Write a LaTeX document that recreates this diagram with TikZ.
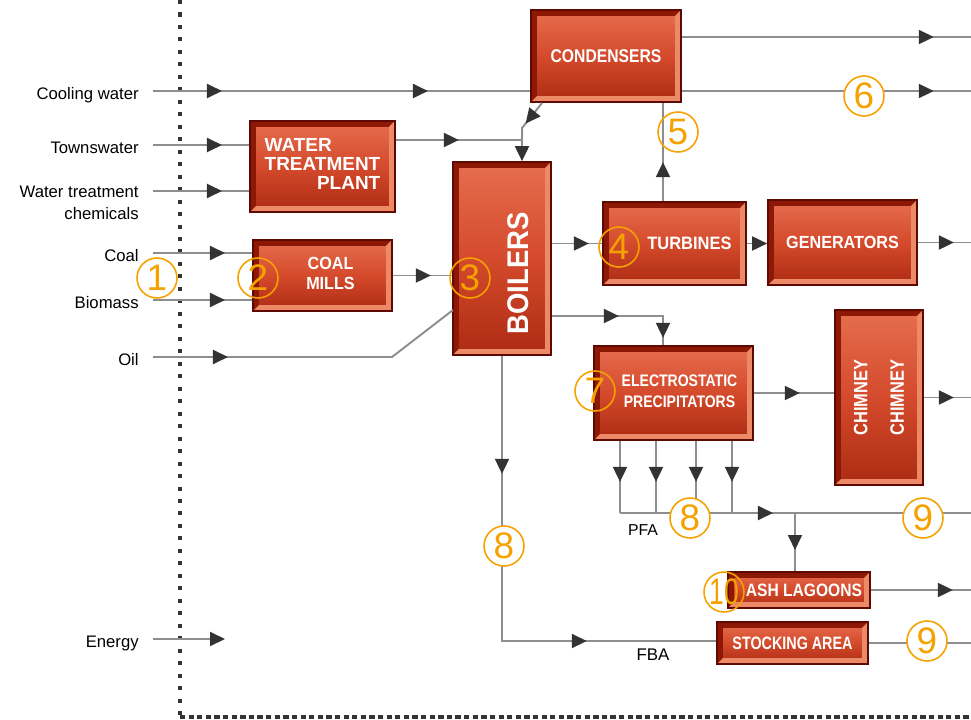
\documentclass[tikz,border=0pt]{standalone}
\usepackage{fontspec}
\setmainfont{Liberation Sans}
\setsansfont{Liberation Sans}
\usepackage{graphicx}
\usetikzlibrary{arrows.meta,decorations.markings}
\definecolor{unitlight}{HTML}{E66E4F}
\definecolor{unitmid}{HTML}{D44A2C}
\definecolor{unitdeep}{HTML}{AC2B12}
\definecolor{unitedge}{HTML}{5E0A02}
\definecolor{unitshade}{HTML}{8E1806}
\definecolor{unitglow}{HTML}{EC8A68}
\definecolor{pipegray}{HTML}{8E8E8E}
\definecolor{tipgray}{HTML}{333333}
\definecolor{tagorange}{HTML}{F5A200}
\definecolor{fencegray}{HTML}{333333}
\newcommand\bevelwd{3.4pt}
\newcommand\narrowtext[2]{\scalebox{#1}[1]{#2}}
\tikzset{
  flowtip/.tip={Triangle[length=0.3cm,width=0.28cm,color=tipgray]},
  pipe/.style={draw=pipegray, line width=1.1pt},
  ahead/.style={postaction={decorate,decoration={markings,
      mark=at position #1 with {\arrow{flowtip}}}}},
  unit/.style={rectangle, draw=unitedge, line width=1pt,
    top color=unitlight, bottom color=unitdeep, middle color=unitmid,
    text=white, inner sep=0pt, align=center,
    path picture={
      \path (path picture bounding box.north west) coordinate (bnw)
            (path picture bounding box.north east) coordinate (bne)
            (path picture bounding box.south west) coordinate (bsw)
            (path picture bounding box.south east) coordinate (bse);
      \fill[unitshade] (bsw) -- (bnw) -- (bne)
        -- ([shift={(-\bevelwd,-\bevelwd)}]bne) -- ([shift={(\bevelwd,-\bevelwd)}]bnw)
        -- ([shift={(\bevelwd,\bevelwd)}]bsw) -- cycle;
      \fill[unitglow] (bsw) -- (bse) -- (bne)
        -- ([shift={(-\bevelwd,-\bevelwd)}]bne) -- ([shift={(-\bevelwd,\bevelwd)}]bse)
        -- ([shift={(\bevelwd,\bevelwd)}]bsw) -- cycle;
    }},
  inlet/.style={anchor=east, inner xsep=0.28cm, inner ysep=0pt,
    font=\fontsize{9.5}{12.5}\selectfont},
  oneline/.style={text height=0.95em, text depth=0pt},
  note/.style={inner sep=0pt, font=\fontsize{9}{11}\selectfont},
  tag/.style={circle, draw=tagorange, line width=0.9pt, minimum size=0.8cm,
    inner sep=0pt, text=tagorange, font=\fontsize{21}{21}\selectfont},
  fence/.style={draw=fencegray, line width=1.9pt}
}

\begin{document}
\begin{tikzpicture}[x=0.02cm, y=-0.02cm]
\useasboundingbox (0,0) rectangle (971,720);

% site boundary
\draw[fence, dash pattern=on 2.3pt off 4.8pt] (180,0) -- (180,717);
\draw[fence, dash pattern=on 3pt off 1.9pt] (180,717) -- (971,717);

% plant units
\node[unit, minimum width=3cm, minimum height=1.84cm,
  font=\bfseries\fontsize{10.5}{12}\selectfont] (cond) at (606,56)
  {\narrowtext{0.85}{CONDENSERS}};
\node[unit, minimum width=2.9cm, minimum height=1.82cm,
  font=\bfseries\fontsize{10.8}{10.8}\selectfont] (wtp) at (322.5,166.5)
  {\begin{tabular}{@{}l@{}}WATER\\TREATMENT\\\hfill PLANT\end{tabular}};
\node[unit, minimum width=2.78cm, minimum height=1.42cm,
  font=\bfseries\fontsize{10}{11.3}\selectfont] (mills) at (322.5,275.5)
  {\hspace*{0.32cm}\narrowtext{0.92}{\begin{tabular}{@{}c@{}}COAL\\MILLS\end{tabular}}};
\node[unit, minimum width=1.96cm, minimum height=3.86cm,
  font=\bfseries\fontsize{17}{17}\selectfont] (boil) at (502,258.5)
  {\hspace*{0.64cm}\rotatebox{90}{\narrowtext{0.92}{BOILERS}\hspace{0.6cm}}};
\node[unit, minimum width=2.86cm, minimum height=1.66cm,
  font=\bfseries\fontsize{10.2}{12}\selectfont] (turb) at (674.5,243.5)
  {\hspace*{0.6cm}\narrowtext{0.92}{TURBINES}};
\node[unit, minimum width=2.98cm, minimum height=1.7cm,
  font=\bfseries\fontsize{10}{12}\selectfont] (gen) at (842.5,242.5)
  {\narrowtext{0.92}{GENERATORS}};
\node[unit, minimum width=3.18cm, minimum height=1.88cm,
  font=\bfseries\fontsize{9.5}{11.9}\selectfont] (esp) at (673.5,393)
  {\hspace*{0.24cm}\narrowtext{0.84}{\begin{tabular}{@{}c@{}}ELECTROSTATIC\\PRECIPITATORS\end{tabular}}};
\node[unit, minimum width=1.76cm, minimum height=3.5cm,
  font=\bfseries\fontsize{11}{12}\selectfont] (chim) at (879,397.5)
  {\rotatebox{90}{\narrowtext{0.85}{CHIMNEY}}\hspace{0.46cm}\rotatebox{90}{\narrowtext{0.85}{CHIMNEY}}};
\node[unit, minimum width=2.84cm, minimum height=0.72cm,
  font=\bfseries\fontsize{10.2}{12}\selectfont] (ash) at (799,590)
  {\hspace*{0.2cm}\narrowtext{0.87}{ASH LAGOONS}};
\node[unit, minimum width=3.02cm, minimum height=0.84cm,
  font=\bfseries\fontsize{10.2}{12}\selectfont] (stock) at (792.5,643)
  {\narrowtext{0.8}{STOCKING AREA}};

% inputs
\node[inlet, oneline] (cool) at (153,91) {Cooling water};
\node[inlet, oneline] (town) at (153,145) {Townswater};
\node[inlet, align=right] (chem) at (153,203) {Water treatment\\chemicals};
\node[inlet, oneline] (coal) at (153,253) {Coal};
\node[inlet, oneline] (bio) at (153,300) {Biomass};
\node[inlet, oneline] (oil) at (153,357) {Oil};
\node[inlet, oneline] (energy) at (153,639) {Energy};

\node[note] (pfa-label) at (643,530) {PFA};
\node[note, font=\fontsize{9.6}{11}\selectfont] (fba-label) at (653,655) {FBA};

% helper points
\coordinate (edge) at (971,0);
\coordinate (vent) at ([yshift=0.38cm]cond.east);
\coordinate (feed) at (522,140);
\coordinate (chemin) at ([yshift=0.24cm]chem.east);
\coordinate (oilbend) at (392,357);
\coordinate (oilin) at (453,310);
\coordinate (exhaust) at ([xshift=-0.23cm]turb.north);
\coordinate (gas) at (663,316);
\coordinate (pfa) at (620,513);
\coordinate (ashtee) at (795,513);
\coordinate (fba) at (502,641);
\coordinate (energyin) at (225,639);

% flows
\draw[pipe, ahead=1.38cm, ahead=5.5cm] (cool.east) -- (cool.east -| cond.west);
\draw[pipe, ahead=5.04cm] (cond.east |- cool.east) -- (edge |- cool.east);
\draw[pipe, ahead=5.04cm] (vent) -- (edge |- vent);
\draw[pipe, ahead=1.38cm] (town.east) -- (town.east -| wtp.west);
\draw[pipe, ahead=1.38cm] (chemin) -- (chemin -| wtp.west);
\draw[pipe, ahead=1.44cm] (coal.east) -- (coal.east -| mills.west);
\draw[pipe, ahead=1.44cm] (bio.east) -- (bio.east -| mills.west);
\draw[pipe, ahead=0.76cm] (mills.east) -- (mills.east -| boil.west);
\draw[pipe, ahead=1.5cm] (oil.east) -- (oilbend) -- (oilin);
\draw[pipe, ahead=1.26cm, -flowtip] (wtp.east |- feed) -- (feed) -- (feed |- boil.north);
\draw[pipe, ahead=0.53cm] ([xshift=0.24cm]cond.south west) -- ++(-0.4cm,-0.5cm) -- (feed);
\draw[pipe, ahead=0.74cm] (boil.east |- turb.west) -- (turb.west);
\draw[pipe, -flowtip] (turb.east) -- (turb.east -| gen.west);
\draw[pipe, ahead=0.72cm] (gen.east) -- (edge |- gen.east);
\draw[pipe, ahead=0.78cm] (exhaust) -- (exhaust |- cond.south);
\draw[pipe, ahead=1.34cm, ahead=2.66cm] (boil.east |- gas) -- (gas) -- (gas |- esp.north);
\draw[pipe, ahead=0.92cm] (esp.east) -- (esp.east -| chim.west);
\draw[pipe, ahead=0.6cm] (chim.east) -- (edge |- chim.east);
\foreach \x in {620,656,696,732}
  \draw[pipe, ahead=0.82cm] (esp.south -| \x,0) -- (pfa -| \x,0);
\draw[pipe, ahead=3.06cm] (pfa) -- (edge |- pfa);
\draw[pipe, ahead=0.74cm] (ashtee) -- (ashtee |- ash.north);
\draw[pipe, ahead=1.64cm] (ash.east) -- (edge |- ash.east);
\draw[pipe, ahead=2.36cm, ahead=7.4cm] (boil.south) -- (fba) -- (fba -| stock.west);
\draw[pipe] (stock.east) -- (edge |- stock.east);
\draw[pipe, -flowtip] (energy.east) -- (energyin);

% stage numbers
\node[tag] (n1) at (157,278) {1};
\node[tag] (n2) at (258,278) {2};
\node[tag] (n3) at (470,278) {3};
\node[tag] (n4) at (619,247) {4};
\node[tag] (n5) at (678,132) {5};
\node[tag, fill=white] (n6) at (864,96) {6};
\node[tag] (n7) at (595,391) {7};
\node[tag, fill=white] (n8) at (690,518) {8};
\node[tag, fill=white] (n8b) at (504,546) {8};
\node[tag, fill=white] (n9) at (923,518) {9};
\node[tag, fill=white] (n9b) at (927,641) {9};
\node[tag] (n10) at (724,592) {\narrowtext{0.72}{10}};
\end{tikzpicture}
\end{document}
